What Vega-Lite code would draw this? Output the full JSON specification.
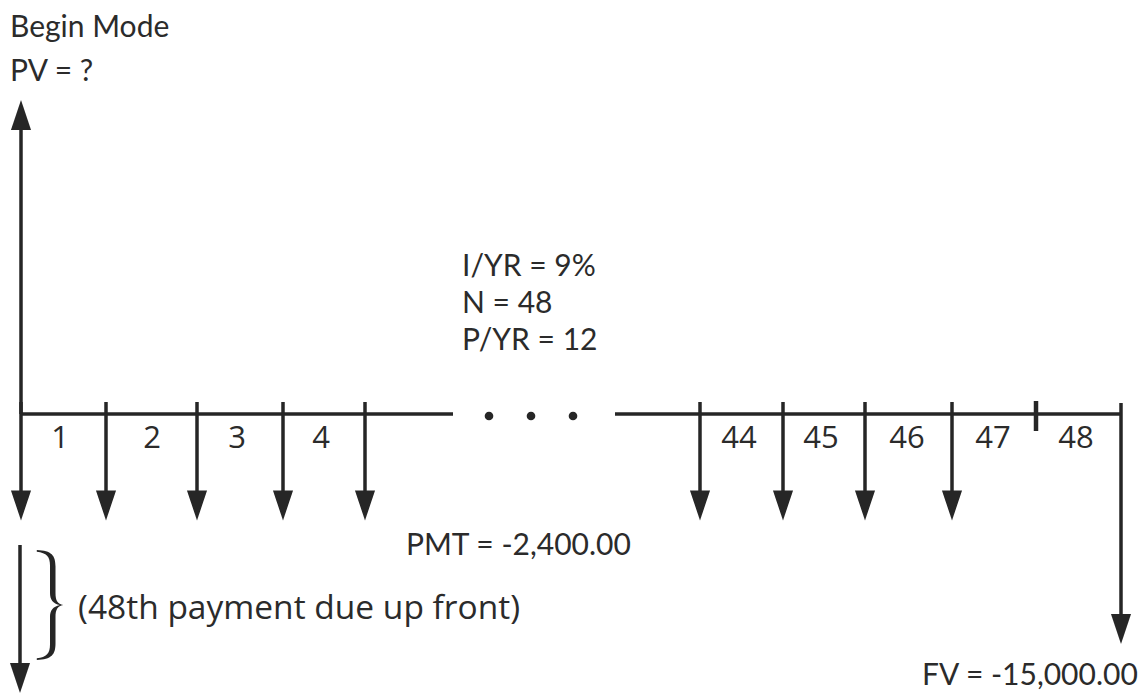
{
  "$schema": "https://vega.github.io/schema/vega-lite/v6.json",
  "width": 1143,
  "height": 694,
  "autosize": {"type": "fit", "contains": "padding"},
  "padding": 0,
  "background": "white",
  "config": {"view": {"stroke": null}},
  "datasets": {
    "timeline": [
      {"x": 21, "x2": 453, "y": 414},
      {"x": 615, "x2": 1121, "y": 414}
    ],
    "shafts": [
      {"x": 21, "y": 110, "y2": 414},
      {"x": 21, "y": 402, "y2": 500},
      {"x": 106, "y": 402, "y2": 500},
      {"x": 197, "y": 402, "y2": 500},
      {"x": 283, "y": 402, "y2": 500},
      {"x": 365, "y": 402, "y2": 500},
      {"x": 700, "y": 402, "y2": 500},
      {"x": 783, "y": 402, "y2": 500},
      {"x": 865, "y": 402, "y2": 500},
      {"x": 952, "y": 402, "y2": 500},
      {"x": 1121, "y": 403, "y2": 624},
      {"x": 20, "y": 545, "y2": 672}
    ],
    "ticks": [
      {"x": 1036, "y": 401, "y2": 431}
    ],
    "headsDown": [
      {"x": 21, "y": 505.5},
      {"x": 106, "y": 505.5},
      {"x": 197, "y": 505.5},
      {"x": 283, "y": 505.5},
      {"x": 365, "y": 505.5},
      {"x": 700, "y": 505.5},
      {"x": 783, "y": 505.5},
      {"x": 865, "y": 505.5},
      {"x": 952, "y": 505.5},
      {"x": 1121, "y": 629},
      {"x": 20, "y": 678}
    ],
    "headsUp": [
      {"x": 21, "y": 115}
    ],
    "dots": [
      {"x": 489, "y": 416},
      {"x": 531, "y": 416},
      {"x": 573, "y": 416}
    ],
    "brace": [
      {"x": 50, "y": 605}
    ],
    "labels": [
      {"x": 10, "y": 37, "text": "Begin Mode"},
      {"x": 10, "y": 81, "text": "PV = ?"},
      {"x": 462, "y": 276, "text": "I/YR = 9%"},
      {"x": 462, "y": 313, "text": "N = 48"},
      {"x": 462, "y": 350, "text": "P/YR = 12"},
      {"x": 406, "y": 555, "text": "PMT = -2,400.00"},
      {"x": 922, "y": 685, "text": "FV = -15,000.00"}
    ],
    "periods": [
      {"x": 60, "y": 448, "text": "1"},
      {"x": 152, "y": 448, "text": "2"},
      {"x": 237, "y": 448, "text": "3"},
      {"x": 321, "y": 448, "text": "4"},
      {"x": 739, "y": 448, "text": "44"},
      {"x": 821, "y": 448, "text": "45"},
      {"x": 907, "y": 448, "text": "46"},
      {"x": 993, "y": 448, "text": "47"},
      {"x": 1076, "y": 448, "text": "48"}
    ],
    "note": [
      {"x": 78, "y": 619, "text": "(48th payment due up front)"}
    ]
  },
  "encoding": {
    "x": {"field": "x", "type": "quantitative", "scale": {"domain": [0, 1143], "nice": false, "zero": false}, "axis": null},
    "y": {"field": "y", "type": "quantitative", "scale": {"domain": [0, 694], "nice": false, "zero": false, "reverse": true}, "axis": null}
  },
  "layer": [
    {
      "data": {"name": "timeline"},
      "mark": {"type": "rule", "stroke": "#262626", "strokeWidth": 3.5},
      "encoding": {"x2": {"field": "x2"}}
    },
    {
      "data": {"name": "shafts"},
      "mark": {"type": "rule", "stroke": "#262626", "strokeWidth": 3.5},
      "encoding": {"y2": {"field": "y2"}}
    },
    {
      "data": {"name": "ticks"},
      "mark": {"type": "rule", "stroke": "#262626", "strokeWidth": 4.5},
      "encoding": {"y2": {"field": "y2"}}
    },
    {
      "data": {"name": "headsDown"},
      "mark": {"type": "point", "filled": true, "fill": "#262626", "opacity": 1, "strokeWidth": 0, "size": 900, "shape": "M-0.67,-1L0.67,-1L0,1Z"}
    },
    {
      "data": {"name": "headsUp"},
      "mark": {"type": "point", "filled": true, "fill": "#262626", "opacity": 1, "strokeWidth": 0, "size": 900, "shape": "M-0.67,1L0.67,1L0,-1Z"}
    },
    {
      "data": {"name": "dots"},
      "mark": {"type": "point", "filled": true, "fill": "#262626", "opacity": 1, "strokeWidth": 0, "size": 75, "shape": "circle"}
    },
    {
      "data": {"name": "brace"},
      "mark": {"type": "point", "filled": true, "fill": "#262626", "opacity": 1, "strokeWidth": 0, "size": 12100,
        "shape": "M-0.24,-1C0.03,-0.99 0.1,-0.9 0.1,-0.7L0.1,-0.22C0.1,-0.08 0.14,-0.02 0.24,0C0.14,0.02 0.1,0.08 0.1,0.22L0.1,0.7C0.1,0.9 0.03,0.99 -0.24,1L-0.24,0.97C-0.06,0.95 0.0,0.88 0.0,0.72L0.0,0.22C0.0,0.1 0.05,0.03 0.18,0C0.05,-0.03 0.0,-0.1 0.0,-0.22L0.0,-0.72C0.0,-0.88 -0.06,-0.95 -0.24,-0.97Z"}
    },
    {
      "data": {"name": "labels"},
      "mark": {"type": "text", "font": "Lato", "fontSize": 30, "align": "left", "baseline": "alphabetic", "fill": "#2b2b2b"},
      "encoding": {"text": {"field": "text"}}
    },
    {
      "data": {"name": "periods"},
      "mark": {"type": "text", "font": "Open Sans", "fontSize": 31, "align": "center", "baseline": "alphabetic", "fill": "#2b2b2b"},
      "encoding": {"text": {"field": "text"}}
    },
    {
      "data": {"name": "note"},
      "mark": {"type": "text", "font": "Open Sans", "fontSize": 33.5, "align": "left", "baseline": "alphabetic", "fill": "#2b2b2b"},
      "encoding": {"text": {"field": "text"}}
    }
  ]
}
